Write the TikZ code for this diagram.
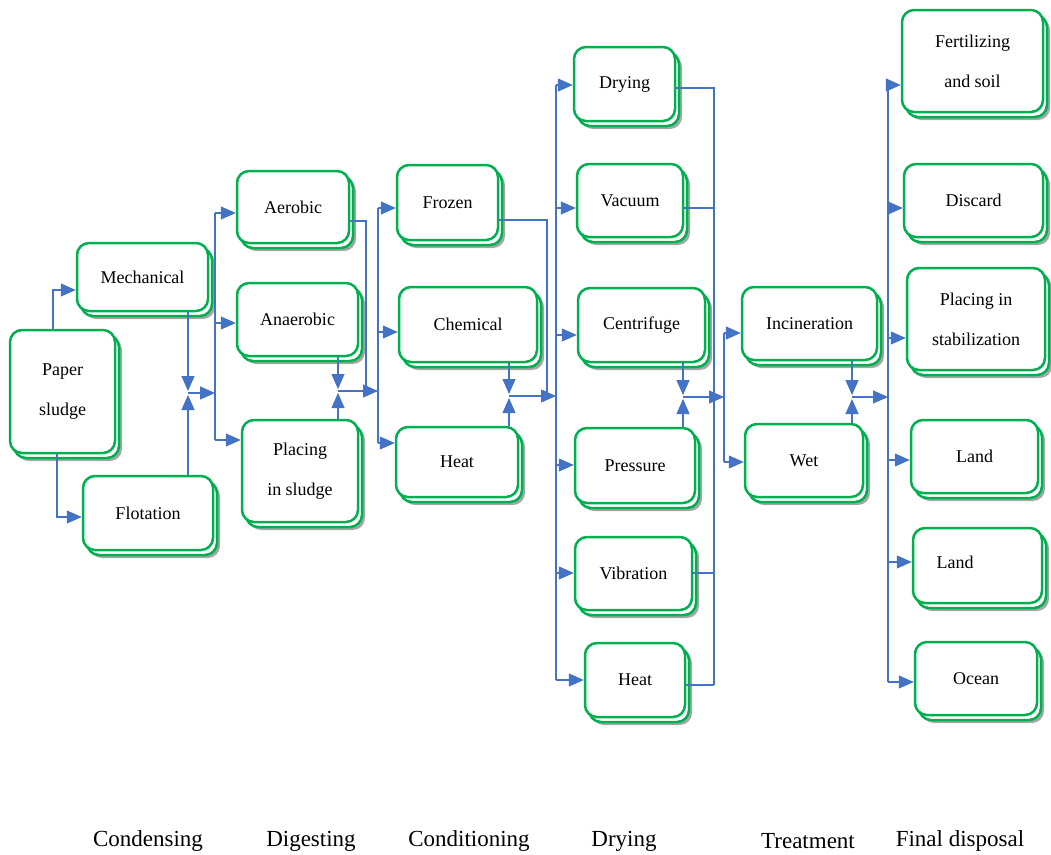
\documentclass[tikz,border=0pt]{standalone}
\usepackage{fontspec}
\setmainfont{Liberation Serif}
\usetikzlibrary{shadows,arrows.meta,calc}
\definecolor{boxgreen}{RGB}{0,176,80}
\definecolor{flowblue}{RGB}{68,114,196}
\tikzset{
  card/.style={draw=boxgreen, line width=2.5pt, fill=white, rounded corners=12pt,
    align=center, inner sep=2pt, font=\fontsize{18}{40}\selectfont,
    general shadow={shadow xshift=7pt, shadow yshift=-8pt, fill=black, opacity=0.35, draw=none},
    general shadow={shadow xshift=4pt, shadow yshift=-5pt, fill=white, draw=boxgreen, line width=2.5pt}},
  flowline/.style={draw=flowblue, line width=1.1pt},
  arr/.style={flowline, -{Triangle[length=15pt,width=13pt]}},
  stage/.style={font=\fontsize{23}{26}\selectfont}
}
\begin{document}
\begin{tikzpicture}[x=1pt,y=-1pt]
\useasboundingbox (0,0) rectangle (1051,854);
\fill[white] (0,0) rectangle (1051,854);
% ---------- boxes ----------
\node[card, minimum width=105pt, minimum height=123pt] (paper) at (62.5,391.5) {Paper\\sludge};
\node[card, minimum width=131pt, minimum height=68pt] (mech) at (142.5,277) {Mechanical};
\node[card, minimum width=130pt, minimum height=74pt] (flot) at (148,513) {Flotation};
\node[card, minimum width=112pt, minimum height=72pt] (aer) at (293,207) {Aerobic};
\node[card, minimum width=121pt, minimum height=73pt] (anaer) at (297.5,319.5) {Anaerobic};
\node[card, minimum width=116pt, minimum height=102pt] (plac) at (300,471) {Placing\\in sludge};
\node[card, minimum width=101pt, minimum height=75pt] (frozen) at (447.5,202.5) {Frozen};
\node[card, minimum width=138pt, minimum height=75pt] (chem) at (468,324.5) {Chemical};
\node[card, minimum width=122pt, minimum height=70pt] (heatA) at (457,462) {Heat};
\node[card, minimum width=101pt, minimum height=74pt] (dry) at (624.5,84) {Drying};
\node[card, minimum width=106pt, minimum height=73pt] (vac) at (630,200.5) {Vacuum};
\node[card, minimum width=127pt, minimum height=74pt] (cent) at (641.5,325) {Centrifuge};
\node[card, minimum width=120pt, minimum height=75pt] (press) at (635,465.5) {Pressure};
\node[card, minimum width=117pt, minimum height=73pt] (vibr) at (633.5,573.5) {Vibration};
\node[card, minimum width=100pt, minimum height=74pt] (heatB) at (635,680) {Heat};
\node[card, minimum width=135pt, minimum height=73pt] (inc) at (809.5,323.5) {Incineration};
\node[card, minimum width=118pt, minimum height=73pt] (wet) at (804,460.5) {Wet};
\node[card, minimum width=141pt, minimum height=102pt] (fert) at (972.5,61) {Fertilizing\\and soil};
\node[card, minimum width=139pt, minimum height=73pt] (disc) at (973.5,200.5) {Discard};
\node[card, minimum width=138pt, minimum height=102pt] (stab) at (976,319) {Placing in\\stabilization};
\node[card, minimum width=127pt, minimum height=73pt] (landA) at (974.5,456.5) {Land};
\node[card, minimum width=129pt, minimum height=75pt] (landB) at (977.5,565.5) {};
\node[font=\fontsize{18}{40}\selectfont] (landBt) at (955,562) {Land};
\node[card, minimum width=122pt, minimum height=73pt] (ocean) at (976,678.5) {Ocean};
% ---------- junctions and buses ----------
\coordinate (j1) at (188,393);
\coordinate (b1) at (215,393);
\coordinate (b1t) at (215,213);
\coordinate (b1b) at (215,440);
\coordinate (j2) at (338,391);
\coordinate (b2) at (378,391);
\coordinate (b2t) at (378,208);
\coordinate (b2b) at (378,443);
\coordinate (j3) at (509,396);
\coordinate (b3) at (556,396);
\coordinate (b3t) at (556,85);
\coordinate (b3b) at (556,680);
\coordinate (j4) at (683,397);
\coordinate (c4) at (714,397);
\coordinate (c4b) at (714,685);
\coordinate (b4) at (724,397);
\coordinate (b4t) at (724,333);
\coordinate (b4b) at (724,462);
\coordinate (j5) at (852,397);
\coordinate (b5) at (888,397);
\coordinate (b5t) at (888,85);
\coordinate (b5b) at (888,682);
% ---------- condensing ----------
\draw[arr] (paper.north -| 53,0) |- (mech.west |- 0,290);
\draw[arr] (paper.south -| 57,0) |- (flot.west |- 0,517);
\draw[arr] (mech.south -| j1) -- ([yshift=2pt]j1);
\draw[arr] (flot.north -| j1) -- ([yshift=-2pt]j1);
\draw[arr] (j1) -- (b1);
\draw[flowline] (b1t) -- (b1b);
\draw[arr] (b1t) -- (aer.west |- b1t);
\draw[arr] (b1 |- 0,323) -- (anaer.west |- 0,323);
\draw[arr] (b1b) -- (plac.west |- b1b);
% ---------- digesting ----------
\draw[arr] (anaer.south -| j2) -- ([yshift=2pt]j2);
\draw[arr] (plac.north -| j2) -- ([yshift=-2pt]j2);
\draw[arr] (j2) -- (b2);
\draw[flowline] (aer.east |- 0,221) -| (366,391);
\draw[flowline] (b2t) -- (b2b);
\draw[arr] (b2t) -- (frozen.west |- b2t);
\draw[arr] (b2 |- 0,332) -- (chem.west |- 0,332);
\draw[arr] (b2b) -- (heatA.west |- b2b);
% ---------- conditioning ----------
\draw[arr] (chem.south -| j3) -- ([yshift=2pt]j3);
\draw[arr] (heatA.north -| j3) -- ([yshift=-2pt]j3);
\draw[arr] (j3) -- (b3);
\draw[flowline] (frozen.east |- 0,220) -| (547,396);
\draw[flowline] (b3t) -- (b3b);
\draw[arr] (b3t) -- (dry.west |- b3t);
\draw[arr] (b3 |- 0,208) -- (vac.west |- 0,208);
\draw[arr] (b3 |- 0,335) -- (cent.west |- 0,335);
\draw[arr] (b3 |- 0,465) -- (press.west |- 0,465);
\draw[arr] (b3 |- 0,573) -- (vibr.west |- 0,573);
\draw[arr] (b3b) -- (heatB.west |- b3b);
% ---------- drying ----------
\draw[arr] (cent.south -| j4) -- ([yshift=2pt]j4);
\draw[arr] (press.north -| j4) -- ([yshift=-2pt]j4);
\draw[arr] (j4) -- (b4);
\draw[flowline] (dry.east |- 0,88) -| (c4b);
\draw[flowline] (vac.east |- 0,208) -- (c4 |- 0,208);
\draw[flowline] (vibr.east |- 0,573) -- (c4 |- 0,573);
\draw[flowline] (heatB.east |- c4b) -- (c4b);
\draw[flowline] (b4t) -- (b4b);
\draw[arr] (b4t) -- (inc.west |- b4t);
\draw[arr] (b4b) -- (wet.west |- b4b);
% ---------- treatment ----------
\draw[arr] (inc.south -| j5) -- ([yshift=2pt]j5);
\draw[arr] (wet.north -| j5) -- ([yshift=-2pt]j5);
\draw[arr] (j5) -- (b5);
\draw[flowline] (b5t) -- (b5b);
\draw[arr] (b5t) -- (fert.west |- b5t);
\draw[arr] (b5 |- 0,208) -- (disc.west |- 0,208);
\draw[arr] (b5 |- 0,338) -- (stab.west |- 0,338);
\draw[arr] (b5 |- 0,460) -- (landA.west |- 0,460);
\draw[arr] (b5 |- 0,562) -- (landB.west |- 0,562);
\draw[arr] (b5b) -- (ocean.west |- b5b);
% ---------- stage labels ----------
\node[stage] (s1) at (148,841) {Condensing};
\node[stage] (s2) at (311,841) {Digesting};
\node[stage] (s3) at (469,841) {Conditioning};
\node[stage] (s4) at (624,841) {Drying};
\node[stage] (s5) at (808,841) {Treatment};
\node[stage] (s6) at (960,841) {Final disposal};
\end{tikzpicture}
\end{document}
